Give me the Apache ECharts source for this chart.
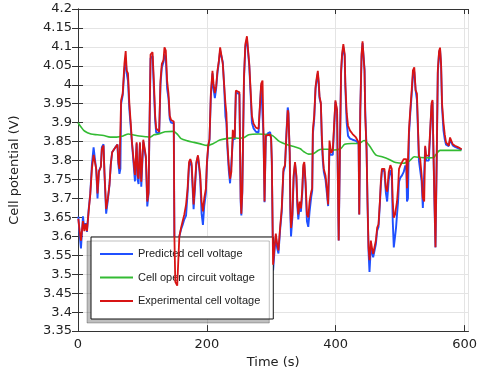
<!DOCTYPE html>
<html>
<head>
<meta charset="utf-8">
<script src="https://cdn.jsdelivr.net/npm/echarts@6/dist/echarts.min.js"></script>
<style>
html,body{margin:0;padding:0;background:#fff;}
#chart{width:480px;height:374px;}
</style>
</head>
<body>
<div id="chart"></div>
<script>
// Time (s) sample points for measured / predicted voltage
const timeS = [0.5,2.5,4.6,7.7,9.8,11.8,13.9,16.5,19,21.6,24.2,26.7,28.3,30.3,32.4,35.5,37,39.6,41.1,43.7,46.3,48.8,50.9,53,57.6,61.2,62.7,64.3,65.8,66.9,69.4,72,74,75.6,77.6,79.7,81.8,83.8,85.9,88.4,91,92.5,94,96.1,98.2,101.3,103.8,105.4,107.5,109.5,110.6,112.6,115.7,117.7,119.8,121.3,123.9,126,128,130.1,132.7,134.2,136.3,138.3,140.4,142.4,144.5,147,148.6,149.6,151,154,157.3,159.9,162.4,165,167.7,170.1,172.3,174.3,176.3,177.8,179.4,181.5,183.6,186.2,188.2,189.7,191.8,193.9,195.9,198.5,200.1,202.1,204.1,206.2,208.7,210.3,212.4,214.4,216.4,218.6,220.6,222.6,224.7,226.7,228.8,230.3,231.8,234,236,238,240.2,241.5,243.2,245,248,250.5,252.5,253.5,255,257.6,259.7,262.2,263.8,265.8,267.9,269.9,272.5,276.1,280.2,282.7,284.3,286.4,287.9,289.5,291.5,294.6,298.2,299.7,300.8,302.8,304.9,307,309,311.1,313.6,316.2,318.8,321.3,323.4,325.5,326.5,328.6,329.6,330.6,332.7,334.7,336.8,338.9,340.4,341.9,344,346,348.1,349.6,351.2,353.2,355.3,357.4,359.4,362,363.5,364.5,366.6,368.7,370.7,372.2,373.8,374.8,376.9,378.4,379.9,381.5,384.1,386.2,388.2,390.3,391.3,392.8,395.4,398,399.5,400.6,402.1,403.1,404.6,406.7,408.3,409.8,411.8,413.9,414.9,417,419.1,422.2,426.2,431.4,433.9,435.5,436.5,438.1,440.1,441.6,443.2,444.7,445.8,446.8,447.8,449.3,450.9,452.4,454.5,456.1,458.1,460.2,462.3,464.3,466.4,468.5,470,471.6,473.6,475.6,477.8,479.8,482.3,484.8,487,488.5,490.1,492.1,493.6,495.1,496.7,498.2,500.3,502.9,505.5,508,509.6,510.6,512.1,513.7,515.7,517.9,519.8,521.9,524,526,527.6,529.1,531.1,533.3,535.2,537.3,538.8,540.3,542.5,544.5,546.5,548.7,550.2,551.7,553.3,554.8,556.8,558.4,560.4,561.9,563.5,565,567.2,569.2,571.2,573.4,575.4,577.4,580,581.6,585.1,590.4,595.4];

// Experimental cell voltage (V)
const experimentalV = [3.646,3.615,3.589,3.640,3.614,3.633,3.614,3.666,3.710,3.778,3.815,3.812,3.778,3.713,3.770,3.783,3.830,3.840,3.768,3.672,3.700,3.735,3.790,3.822,3.834,3.842,3.795,3.778,3.783,3.959,3.977,4.055,4.089,4.037,4.030,3.951,3.900,3.848,3.848,3.762,3.848,3.760,3.752,3.848,3.744,3.855,3.853,3.811,3.692,3.716,3.848,4.080,4.086,4.012,3.918,3.885,3.880,3.876,4.011,4.055,4.065,4.099,4.090,4.011,3.978,3.918,3.907,3.905,3.903,3.600,3.480,3.470,3.600,3.622,3.640,3.658,3.684,3.726,3.796,3.804,3.793,3.744,3.684,3.736,3.796,3.814,3.814,3.762,3.692,3.666,3.700,3.726,3.796,3.840,3.857,3.978,4.037,4.003,3.978,3.995,4.037,4.063,4.099,4.102,4.055,4.003,3.951,3.925,3.848,3.788,3.752,3.770,3.881,3.870,3.860,3.985,3.990,3.980,3.700,3.660,3.720,4.020,4.107,4.128,4.125,4.055,3.985,3.918,3.897,3.887,3.884,3.884,4.003,4.011,3.870,3.692,3.866,3.869,3.869,3.858,3.800,3.525,3.571,3.607,3.581,3.563,3.622,3.674,3.778,3.788,3.866,3.933,3.925,3.822,3.674,3.622,3.658,3.762,3.796,3.762,3.692,3.658,3.692,3.674,3.726,3.788,3.796,3.744,3.658,3.650,3.692,3.718,3.727,3.881,3.918,3.995,4.021,4.037,4.003,3.970,3.952,3.866,3.814,3.778,3.761,3.727,3.684,3.853,3.840,3.820,3.827,3.830,3.959,3.962,3.934,3.778,3.589,3.853,4.037,4.081,4.107,4.081,4.003,3.925,3.892,3.879,3.870,3.861,3.856,3.848,3.658,3.934,4.081,4.115,4.120,4.037,3.918,3.874,3.830,3.692,3.571,3.537,3.589,3.571,3.554,3.554,3.589,3.623,3.632,3.692,3.744,3.778,3.783,3.778,3.727,3.718,3.770,3.788,3.778,3.692,3.649,3.658,3.675,3.692,3.727,3.778,3.787,3.796,3.804,3.809,3.804,3.727,3.727,3.882,3.934,3.986,4.038,4.046,3.986,3.977,3.891,3.813,3.804,3.761,3.701,3.692,3.839,3.813,3.813,3.813,3.813,3.951,3.960,3.822,3.692,3.571,3.822,4.038,4.089,4.098,4.055,3.951,3.900,3.869,3.848,3.843,3.839,3.861,3.856,3.843,3.839,3.835,3.830];

// Predicted cell voltage (V)
const predictedV = [3.652,3.605,3.568,3.653,3.620,3.635,3.612,3.670,3.712,3.790,3.835,3.830,3.775,3.700,3.772,3.785,3.835,3.843,3.765,3.660,3.695,3.735,3.790,3.822,3.834,3.842,3.790,3.765,3.778,3.950,3.972,4.040,4.065,4.030,4.010,3.935,3.890,3.845,3.840,3.745,3.845,3.750,3.738,3.845,3.731,3.850,3.850,3.805,3.679,3.712,3.845,4.070,4.076,3.990,3.905,3.874,3.870,3.872,4.000,4.045,4.060,4.080,4.070,3.990,3.965,3.910,3.900,3.900,3.898,3.600,3.470,3.460,3.600,3.618,3.630,3.645,3.655,3.715,3.785,3.800,3.785,3.730,3.672,3.725,3.790,3.812,3.810,3.750,3.660,3.630,3.680,3.715,3.790,3.835,3.855,3.970,4.030,3.990,3.965,3.990,4.030,4.060,4.090,4.095,4.060,4.000,3.917,3.900,3.835,3.775,3.740,3.742,3.850,3.862,3.855,3.980,3.985,3.975,3.690,3.655,3.715,4.015,4.100,4.120,4.120,4.050,3.975,3.900,3.885,3.876,3.874,3.876,4.000,4.005,3.865,3.690,3.862,3.872,3.875,3.860,3.795,3.510,3.560,3.600,3.570,3.555,3.615,3.665,3.770,3.785,3.870,3.940,3.930,3.815,3.660,3.600,3.650,3.755,3.792,3.755,3.680,3.645,3.680,3.665,3.715,3.780,3.790,3.735,3.640,3.625,3.665,3.705,3.720,3.870,3.910,3.990,4.015,4.030,3.995,3.965,3.950,3.855,3.800,3.770,3.750,3.715,3.680,3.830,3.815,3.813,3.815,3.818,3.955,3.960,3.930,3.775,3.589,3.850,4.030,4.075,4.100,4.075,3.995,3.900,3.865,3.858,3.855,3.852,3.850,3.845,3.658,3.930,4.075,4.110,4.115,4.040,3.930,3.880,3.835,3.690,3.560,3.506,3.570,3.560,3.545,3.545,3.580,3.615,3.625,3.685,3.735,3.770,3.778,3.770,3.715,3.692,3.750,3.775,3.760,3.640,3.571,3.600,3.623,3.658,3.690,3.744,3.755,3.761,3.770,3.787,3.780,3.692,3.700,3.870,3.925,3.975,4.025,4.035,3.985,3.960,3.880,3.800,3.795,3.745,3.675,3.670,3.835,3.800,3.800,3.800,3.805,3.945,3.955,3.815,3.680,3.571,3.810,4.030,4.085,4.092,4.050,3.940,3.880,3.856,3.842,3.840,3.838,3.855,3.850,3.840,3.836,3.832,3.828];

// Cell open circuit voltage (V)
const ocvTime = [0,5,10,20,30,40,50,60,70,78,85,95,105,112,118,125,135,148,155,160,170,180,190,200,210,220,230,240,250,258,265,280,295,302,313,325,335,345,350,358,365,372,378,388,398,408,414,425,436,444,452,462,472,483,493,505,515,522,532,545,552,555,562,575,595];
const ocvV = [3.900,3.888,3.878,3.870,3.868,3.866,3.862,3.862,3.865,3.870,3.868,3.865,3.863,3.862,3.868,3.870,3.876,3.877,3.868,3.858,3.852,3.848,3.844,3.840,3.845,3.854,3.858,3.860,3.859,3.861,3.868,3.870,3.869,3.866,3.850,3.842,3.837,3.831,3.824,3.817,3.818,3.826,3.830,3.830,3.828,3.832,3.843,3.845,3.845,3.853,3.840,3.815,3.810,3.803,3.795,3.793,3.800,3.810,3.808,3.807,3.808,3.815,3.827,3.827,3.827];

const seriesNames = ['Predicted cell voltage', 'Cell open circuit voltage', 'Experimental cell voltage'];
const xRange = [0, 606], xStep = 200;
const yRange = [3.35, 4.2], yStep = 0.05;

const pair = (xs, ys) => xs.map((x, i) => [x, ys[i]]);

const chart = echarts.init(document.getElementById('chart'), null, {renderer: 'canvas'});
const axisFont = {fontFamily: 'DejaVu Sans', fontSize: 13, color: '#222'};
const frame = {show: true, lineStyle: {color: '#333', width: 1}};

chart.setOption({
  animation: false,
  backgroundColor: '#fff',
  grid: {left: 77, right: 10, top: 9, bottom: 37, show: false},
  legend: {
    orient: 'vertical',
    left: 91, top: 237,
    data: seriesNames,
    icon: 'rect',
    itemWidth: 33, itemHeight: 2,
    itemGap: 9.5,
    padding: [10, 13, 11, 9],
    backgroundColor: '#fff',
    borderColor: '#111', borderWidth: 1,
    shadowColor: 'rgba(0,0,0,0.25)', shadowBlur: 0, shadowOffsetX: -4, shadowOffsetY: 4,
    textStyle: {fontFamily: 'Liberation Sans', fontSize: 11, color: '#222', lineHeight: 14},
    selectedMode: false
  },
  xAxis: [{
    type: 'value', min: xRange[0], max: xRange[1], interval: xStep, position: 'bottom',
    name: 'Time (s)', nameLocation: 'middle', nameGap: 20, nameTextStyle: axisFont,
    axisLine: frame,
    axisTick: {show: true, inside: true, length: 6, lineStyle: {color: '#333'}},
    axisLabel: Object.assign({margin: 7, showMaxLabel: false}, axisFont),
    splitLine: {show: true, lineStyle: {color: '#e4e4e4', width: 1}}
  }, {
    type: 'value', min: xRange[0], max: xRange[1], interval: xStep, position: 'top',
    axisLine: frame,
    axisTick: {show: true, inside: true, length: 5, lineStyle: {color: '#333'}},
    axisLabel: {show: false}, splitLine: {show: false}
  }],
  yAxis: [{
    type: 'value', min: yRange[0], max: yRange[1], interval: yStep, position: 'left',
    name: 'Cell potential (V)', nameLocation: 'middle', nameGap: 57, nameTextStyle: axisFont,
    axisLine: frame,
    axisTick: {show: true, inside: true, length: 5, lineStyle: {color: '#333'}},
    axisLabel: Object.assign({margin: 6}, axisFont),
    splitLine: {show: true, lineStyle: {color: '#e4e4e4', width: 1}}
  }, {
    type: 'value', min: yRange[0], max: yRange[1], interval: yStep, position: 'right',
    axisLine: frame,
    axisTick: {show: true, inside: true, length: 6, lineStyle: {color: '#333'}},
    axisLabel: {show: false}, splitLine: {show: false}
  }],
  series: [{
    name: seriesNames[0], type: 'line', xAxisIndex: 0, yAxisIndex: 0,
    data: pair(timeS, predictedV), showSymbol: false, symbol: 'none',
    color: '#2050ff', lineStyle: {color: '#2050ff', width: 1.9}, z: 2
  }, {
    name: seriesNames[1], type: 'line', xAxisIndex: 0, yAxisIndex: 0,
    data: pair(ocvTime, ocvV), showSymbol: false, symbol: 'none', smooth: 0.3,
    color: '#33bb33', lineStyle: {color: '#33bb33', width: 1.6}, z: 3
  }, {
    name: seriesNames[2], type: 'line', xAxisIndex: 0, yAxisIndex: 0,
    data: pair(timeS, experimentalV), showSymbol: false, symbol: 'none',
    color: '#d81414', lineStyle: {color: '#d81414', width: 1.8}, z: 4
  }]
});
</script>
</body>
</html>
